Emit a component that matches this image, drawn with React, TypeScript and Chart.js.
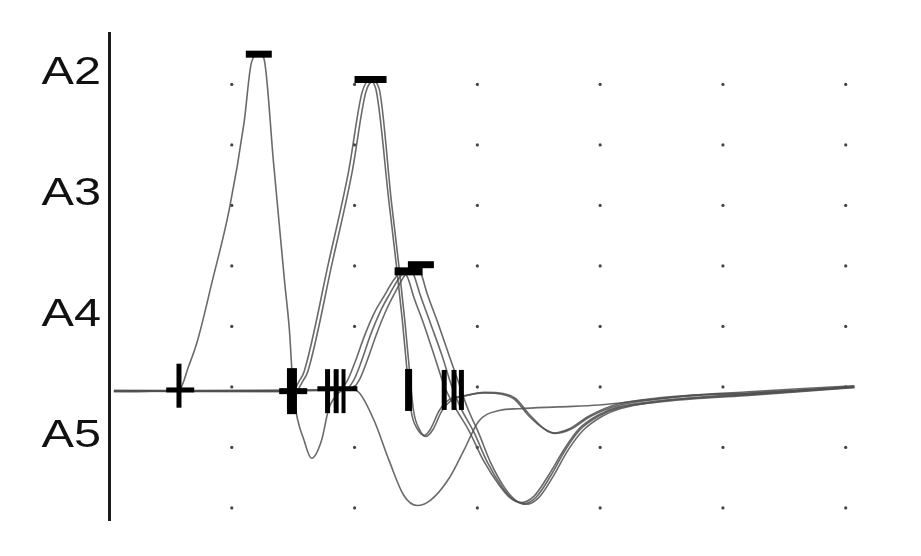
import React, { useEffect, useRef } from "react";
import { Chart, registerables } from "chart.js";

Chart.register(...registerables);

type P = { x: number; y: number };

// Axis labels (level names) and the division values they sit on
const levelLabels = ["A2", "A3", "A4", "A5"];
const levelValues = [5, 3, 1, -1];

// Dotted grid divisions
const gridX = [1, 2, 3, 4, 5, 6];
const gridY = [5, 4, 3, 2, 1, 0, -1, -2];

// Sweep A (single trace)
const traceA: P[] = [
  { x: 0.04, y: -0.08 }, { x: 0.57, y: -0.05 }, { x: 0.65, y: 0.35 }, { x: 0.72, y: 0.76 },
  { x: 0.84, y: 1.74 }, { x: 0.98, y: 2.94 }, { x: 1.1, y: 4.37 }, { x: 1.16, y: 5.36 },
  { x: 1.22, y: 5.5 }, { x: 1.26, y: 5.44 }, { x: 1.34, y: 3.71 }, { x: 1.43, y: 1.74 },
  { x: 1.47, y: 0.92 }, { x: 1.49, y: 0.26 }, { x: 1.51, y: -0.23 }, { x: 1.59, y: -0.89 },
  { x: 1.65, y: -1.18 }, { x: 1.73, y: -0.89 }, { x: 1.79, y: -0.36 }, { x: 1.87, y: -0.1 },
  { x: 1.95, y: -0.03 }, { x: 2.04, y: -0.1 }, { x: 2.16, y: -0.56 }, { x: 2.28, y: -1.21 },
  { x: 2.4, y: -1.79 }, { x: 2.51, y: -1.96 }, { x: 2.62, y: -1.87 }, { x: 2.77, y: -1.51 },
  { x: 2.89, y: -1.05 }, { x: 3.01, y: -0.57 }, { x: 3.18, y: -0.39 }, { x: 3.34, y: -0.36 },
  { x: 3.66, y: -0.33 }, { x: 3.99, y: -0.3 }, { x: 4.4, y: -0.21 }, { x: 4.8, y: -0.13 },
  { x: 5.21, y: -0.08 }, { x: 5.62, y: -0.03 }, { x: 6.07, y: 0.02 },
];

// Sweep B (two nearly overlapping traces)
const traceB1: P[] = [
  { x: 0.04, y: -0.07 }, { x: 1.49, y: -0.08 }, { x: 1.55, y: 0.1 }, { x: 1.59, y: 0.26 },
  { x: 1.79, y: 2.07 }, { x: 1.95, y: 3.55 }, { x: 2.06, y: 4.86 }, { x: 2.12, y: 5.06 },
  { x: 2.17, y: 4.95 }, { x: 2.28, y: 3.06 }, { x: 2.34, y: 2.02 }, { x: 2.39, y: 1.08 },
  { x: 2.43, y: 0.21 }, { x: 2.46, y: -0.39 }, { x: 2.51, y: -0.69 }, { x: 2.57, y: -0.8 },
  { x: 2.62, y: -0.69 }, { x: 2.69, y: -0.39 }, { x: 2.77, y: -0.21 }, { x: 2.89, y: -0.15 },
  { x: 3.05, y: -0.1 }, { x: 3.2, y: -0.12 }, { x: 3.3, y: -0.2 }, { x: 3.42, y: -0.48 },
  { x: 3.54, y: -0.69 }, { x: 3.62, y: -0.76 }, { x: 3.75, y: -0.69 }, { x: 3.91, y: -0.48 },
  { x: 4.15, y: -0.28 }, { x: 4.48, y: -0.18 }, { x: 4.8, y: -0.13 }, { x: 5.21, y: -0.1 },
  { x: 5.62, y: -0.05 }, { x: 6.07, y: 0.0 },
];
const traceB2: P[] = [
  { x: 0.04, y: -0.06 }, { x: 1.52, y: -0.07 }, { x: 1.58, y: 0.1 }, { x: 1.62, y: 0.26 },
  { x: 1.82, y: 2.07 }, { x: 1.98, y: 3.55 }, { x: 2.09, y: 4.86 }, { x: 2.15, y: 5.05 },
  { x: 2.2, y: 4.93 }, { x: 2.3, y: 3.06 }, { x: 2.36, y: 2.02 }, { x: 2.41, y: 1.08 },
  { x: 2.45, y: 0.21 }, { x: 2.48, y: -0.39 }, { x: 2.53, y: -0.71 }, { x: 2.58, y: -0.82 },
  { x: 2.64, y: -0.7 }, { x: 2.71, y: -0.4 }, { x: 2.79, y: -0.22 }, { x: 2.91, y: -0.14 },
  { x: 3.06, y: -0.09 }, { x: 3.21, y: -0.11 }, { x: 3.31, y: -0.19 }, { x: 3.43, y: -0.47 },
  { x: 3.55, y: -0.7 }, { x: 3.63, y: -0.77 }, { x: 3.76, y: -0.7 }, { x: 3.92, y: -0.49 },
  { x: 4.16, y: -0.3 }, { x: 4.48, y: -0.2 }, { x: 4.8, y: -0.14 }, { x: 5.21, y: -0.11 },
  { x: 5.62, y: -0.06 }, { x: 6.07, y: -0.01 },
];

// Sweep C (three nearly parallel traces)
const traceC1: P[] = [
  { x: 0.04, y: -0.07 }, { x: 1.87, y: -0.05 }, { x: 1.94, y: 0.1 }, { x: 2.0, y: 0.39 },
  { x: 2.08, y: 0.84 }, { x: 2.16, y: 1.22 }, { x: 2.24, y: 1.5 }, { x: 2.32, y: 1.77 },
  { x: 2.38, y: 1.9 }, { x: 2.43, y: 1.82 }, { x: 2.48, y: 1.5 }, { x: 2.57, y: 1.0 },
  { x: 2.65, y: 0.51 }, { x: 2.73, y: 0.02 }, { x: 2.81, y: -0.31 }, { x: 2.93, y: -0.72 },
  { x: 3.05, y: -1.22 }, { x: 3.18, y: -1.63 }, { x: 3.27, y: -1.84 }, { x: 3.36, y: -1.91 },
  { x: 3.46, y: -1.81 }, { x: 3.58, y: -1.46 }, { x: 3.71, y: -1.02 }, { x: 3.83, y: -0.69 },
  { x: 3.99, y: -0.46 }, { x: 4.15, y: -0.33 }, { x: 4.48, y: -0.23 }, { x: 4.8, y: -0.18 },
  { x: 5.21, y: -0.13 }, { x: 5.62, y: -0.07 }, { x: 6.07, y: 0.0 },
];
const traceC2: P[] = [
  { x: 0.04, y: -0.07 }, { x: 1.92, y: -0.05 }, { x: 1.99, y: 0.1 }, { x: 2.05, y: 0.39 },
  { x: 2.13, y: 0.86 }, { x: 2.21, y: 1.25 }, { x: 2.29, y: 1.55 }, { x: 2.37, y: 1.82 },
  { x: 2.44, y: 1.95 }, { x: 2.48, y: 1.86 }, { x: 2.53, y: 1.55 }, { x: 2.62, y: 1.04 },
  { x: 2.71, y: 0.53 }, { x: 2.79, y: 0.02 }, { x: 2.86, y: -0.33 }, { x: 2.97, y: -0.74 },
  { x: 3.08, y: -1.24 }, { x: 3.2, y: -1.65 }, { x: 3.29, y: -1.86 }, { x: 3.38, y: -1.93 },
  { x: 3.48, y: -1.82 }, { x: 3.6, y: -1.46 }, { x: 3.72, y: -1.03 }, { x: 3.84, y: -0.7 },
  { x: 4.0, y: -0.47 }, { x: 4.15, y: -0.35 }, { x: 4.48, y: -0.25 }, { x: 4.8, y: -0.19 },
  { x: 5.21, y: -0.14 }, { x: 5.62, y: -0.08 }, { x: 6.07, y: -0.01 },
];
const traceC3: P[] = [
  { x: 0.04, y: -0.06 }, { x: 1.97, y: -0.04 }, { x: 2.04, y: 0.12 }, { x: 2.1, y: 0.42 },
  { x: 2.18, y: 0.88 }, { x: 2.26, y: 1.28 }, { x: 2.34, y: 1.6 }, { x: 2.42, y: 1.88 },
  { x: 2.5, y: 1.99 }, { x: 2.54, y: 1.88 }, { x: 2.59, y: 1.55 }, { x: 2.68, y: 1.05 },
  { x: 2.77, y: 0.52 }, { x: 2.86, y: 0.0 }, { x: 2.92, y: -0.35 }, { x: 3.01, y: -0.76 },
  { x: 3.11, y: -1.26 }, { x: 3.22, y: -1.66 }, { x: 3.31, y: -1.87 }, { x: 3.4, y: -1.94 },
  { x: 3.5, y: -1.83 }, { x: 3.62, y: -1.47 }, { x: 3.74, y: -1.04 }, { x: 3.86, y: -0.72 },
  { x: 4.02, y: -0.48 }, { x: 4.16, y: -0.36 }, { x: 4.48, y: -0.24 }, { x: 4.8, y: -0.17 },
  { x: 5.21, y: -0.12 }, { x: 5.62, y: -0.06 }, { x: 6.07, y: 0.01 },
];

// Latency markers: vertical ticks (onset / crossings)
const vMarks: P[] = [
  { x: 0.57, y: 0.02 }, { x: 1.49, y: -0.07 }, { x: 1.78, y: -0.07 }, { x: 1.85, y: -0.07 },
  { x: 1.91, y: -0.07 }, { x: 2.44, y: -0.05 }, { x: 2.73, y: -0.05 }, { x: 2.81, y: -0.05 },
  { x: 2.87, y: -0.05 },
];
const vMarkLen = [22, 23, 22, 22, 22, 21, 20, 20, 20];
const vMarkWidth = [5, 10, 5, 5, 4, 7, 5, 5, 5];

// Latency markers: horizontal bars (onset crosses and peaks)
const hMarks: P[] = [
  { x: 0.58, y: -0.05 }, { x: 1.5, y: -0.07 }, { x: 1.86, y: -0.03 },
  { x: 1.22, y: 5.5 }, { x: 2.13, y: 5.08 }, { x: 2.44, y: 1.91 }, { x: 2.54, y: 2.02 },
];
const hMarkLen = [14, 14, 20, 13, 16, 14, 13];
const hMarkWidth = [5, 6, 5, 7, 7, 8, 7];

const labelPlugin = {
  id: "levelLabels",
  afterDraw(chart: any) {
    const { ctx } = chart;
    const ys = chart.scales.y;
    const xRight = chart.chartArea.left - 8;
    ctx.save();
    ctx.fillStyle = "#111";
    ctx.font = '38px "Liberation Sans", Arial, sans-serif';
    ctx.textAlign = "right";
    ctx.textBaseline = "alphabetic";
    levelLabels.forEach((lab, i) => {
      const py = ys.getPixelForValue(levelValues[i]);
      ctx.save();
      ctx.translate(xRight, py);
      ctx.scale(1.28, 1);
      ctx.fillText(lab, 0, 0);
      ctx.restore();
    });
    ctx.restore();
  },
};

export default function App() {
  const ref = useRef<HTMLCanvasElement | null>(null);

  useEffect(() => {
    if (!ref.current) return;
    const dots: P[] = [];
    gridX.forEach((gx) => gridY.forEach((gy) => dots.push({ x: gx, y: gy })));

    const traceStyle = (data: P[]) => ({
      data,
      showLine: true,
      borderColor: "rgba(80,80,80,0.85)",
      borderWidth: 1.6,
      pointRadius: 0,
      cubicInterpolationMode: "monotone" as const,
      fill: false,
    });

    const chart = new Chart(ref.current, {
      type: "scatter",
      data: {
        datasets: [
          {
            data: hMarks,
            pointStyle: "line",
            pointRadius: hMarkLen,
            pointBorderWidth: hMarkWidth,
            borderColor: "#000",
            backgroundColor: "#000",
            showLine: false,
          } as any,
          {
            data: vMarks,
            pointStyle: "line",
            pointRotation: 90,
            pointRadius: vMarkLen,
            pointBorderWidth: vMarkWidth,
            borderColor: "#000",
            backgroundColor: "#000",
            showLine: false,
          } as any,
          traceStyle(traceA),
          traceStyle(traceB1),
          traceStyle(traceB2),
          traceStyle(traceC1),
          traceStyle(traceC2),
          traceStyle(traceC3),
          {
            data: dots,
            pointRadius: 1.6,
            pointBorderWidth: 0,
            backgroundColor: "#444",
            borderColor: "#444",
            showLine: false,
          } as any,
        ],
      },
      options: {
        animation: false,
        responsive: false,
        devicePixelRatio: 1,
        layout: { padding: { left: 0, right: 63, top: 30, bottom: 36 } },
        plugins: { legend: { display: false }, tooltip: { enabled: false } },
        scales: {
          x: {
            type: "linear",
            min: 0,
            max: 6.1,
            display: false,
          },
          y: {
            type: "linear",
            min: -2.2,
            max: 5.85,
            grid: { display: false },
            ticks: { display: false },
            border: { display: true, color: "#1a1a1a", width: 3 },
            afterFit: (axis: any) => {
              axis.width = 109;
            },
          },
        },
      },
      plugins: [labelPlugin],
    });
    return () => chart.destroy();
  }, []);

  return (
    <div style={{ position: "fixed", left: 0, top: 0, width: 921, height: 556, background: "#fff" }}>
      <canvas ref={ref} width={921} height={556} />
    </div>
  );
}
